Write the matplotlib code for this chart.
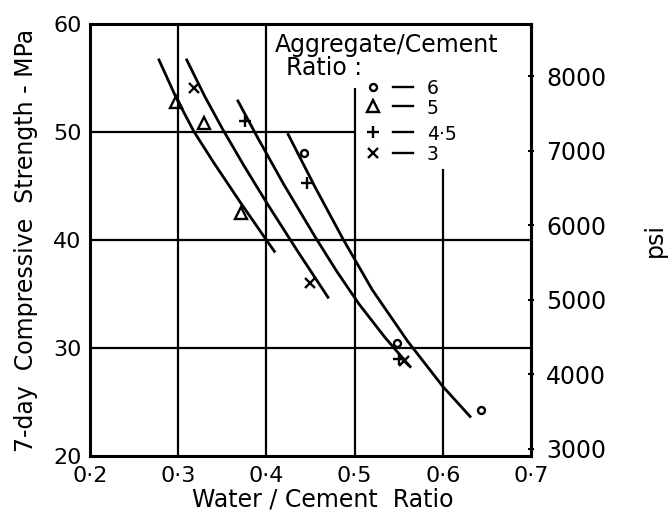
import matplotlib
matplotlib.use("Agg")
import matplotlib.pyplot as plt

plt.rcParams['font.family'] = ['DejaVu Sans']

# fitted curves (water/cement ratio, 7-day strength in MPa)
curve_a_x = [0.2776, 0.298, 0.318, 0.340, 0.370, 0.400, 0.410]
curve_a_y = [56.8, 53.13, 50.03, 47.21, 43.55, 40.01, 38.85]
curve_b_x = [0.309, 0.330, 0.350, 0.375, 0.400, 0.435, 0.4707]
curve_b_y = [56.8, 53.33, 50.33, 46.83, 43.5, 39.02, 34.6]
curve_c_x = [0.367, 0.390, 0.420, 0.455, 0.480, 0.505, 0.535, 0.564]
curve_c_y = [53.0, 49.5, 45.12, 40.33, 37.08, 34.08, 30.93, 28.18]
curve_d_x = [0.424, 0.455, 0.487, 0.520, 0.560, 0.600, 0.632]
curve_d_y = [49.9, 44.94, 40.08, 35.4, 30.65, 26.45, 23.57]

# test results by aggregate/cement ratio
ac6_x = [0.443, 0.548, 0.643]
ac6_y = [48.1, 30.5, 24.3]
ac5_x = [0.297, 0.329, 0.371]
ac5_y = [52.8, 50.8, 42.5]
ac45_x = [0.376, 0.446, 0.550]
ac45_y = [51.0, 45.3, 29.0]
ac3_x = [0.318, 0.449, 0.556]
ac3_y = [54.1, 36.0, 28.8]

legend_labels = ['6', '5', '4·5', '3']
x_ticks = [0.2, 0.3, 0.4, 0.5, 0.6, 0.7]
x_ticklabels = ['0·2', '0·3', '0·4', '0·5', '0·6', '0·7']
y_ticks = [20, 30, 40, 50, 60]
psi_ticks = [3000, 4000, 5000, 6000, 7000, 8000]

fig = plt.figure(figsize=(6.7, 5.13), dpi=100)
ax = fig.add_axes([0.1343, 0.111, 0.6582, 0.842])
ax.set_xlim(0.2, 0.7)
ax.set_ylim(20, 60)

# grid, partly hidden behind the key
glw = 1.6
ax.vlines([0.3, 0.4], 20, 60, color='black', lw=glw)
ax.vlines(0.5, 20, 54.1, color='black', lw=glw)
ax.vlines(0.6, 20, 46.6, color='black', lw=glw)
ax.hlines(50, 0.2, 0.5, color='black', lw=glw)
ax.hlines([30, 40], 0.2, 0.7, color='black', lw=glw)

for cx, cy in [(curve_a_x, curve_a_y), (curve_b_x, curve_b_y),
               (curve_c_x, curve_c_y), (curve_d_x, curve_d_y)]:
    ax.plot(cx, cy, color='black', lw=2.0, solid_capstyle='butt', solid_joinstyle='round')

mk = dict(color='black', linestyle='none', markerfacecolor='none', markeredgewidth=1.7)
ax.plot(ac6_x, ac6_y, marker='o', markersize=5, **mk)
ax.plot(ac5_x, ac5_y, marker='^', markersize=9, **mk)
ax.plot(ac45_x, ac45_y, marker='+', markersize=9, **mk)
ax.plot(ac3_x, ac3_y, marker='x', markersize=7, **mk)

# key
ax.text(0.410, 57.4, 'Aggregate/Cement', fontsize=17, va='baseline', ha='left')
ax.text(0.422, 55.3, 'Ratio :', fontsize=17, va='baseline', ha='left')
key_y = [54.2, 52.4, 50.0, 48.1]
key_markers = [('o', 5), ('^', 8), ('+', 9), ('x', 7)]
for ky, (m, ms), lab in zip(key_y, key_markers, legend_labels):
    ax.plot([0.5207], [ky], marker=m, markersize=ms, **mk)
    ax.plot([0.5437, 0.5667], [ky, ky], color='black', lw=1.7)
    ax.text(0.582, ky, lab, fontsize=13.5, va='center_baseline', ha='left')

for s in ax.spines.values():
    s.set_linewidth(2.2)

ax.set_xticks(x_ticks)
ax.set_xticklabels(x_ticklabels, fontsize=16)
ax.set_yticks(y_ticks)
ax.set_yticklabels([str(v) for v in y_ticks], fontsize=16)
ax.tick_params(axis='x', length=0, pad=7)
ax.tick_params(axis='y', length=0, pad=6)
ax.set_xlabel('Water / Cement  Ratio', fontsize=17, labelpad=1)
ax.xaxis.label.set_x(0.528)
ax.set_ylabel('7-day  Compressive  Strength - MPa', fontsize=17, labelpad=11)

psi = ax.secondary_yaxis('right', functions=(lambda v: v * 145.038, lambda v: v / 145.038))
psi.set_yticks(psi_ticks)
psi.set_yticklabels([str(v) for v in psi_ticks], fontsize=17)
psi.tick_params(axis='y', length=4, width=1.5, direction='inout', pad=9)
psi.spines['right'].set_linewidth(2.2)
psi.set_ylabel('psi', fontsize=17, labelpad=26)

fig.savefig('out.png', dpi=100)
